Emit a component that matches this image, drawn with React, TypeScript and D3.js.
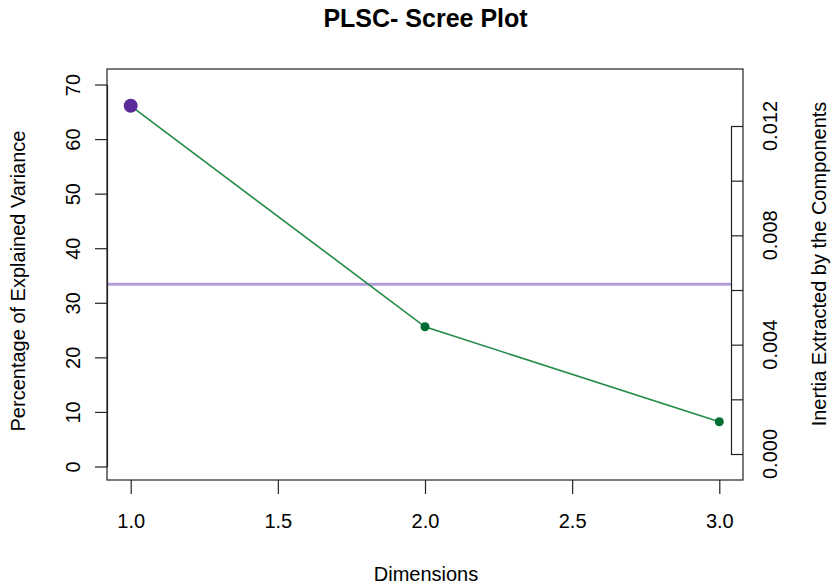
import React, { useEffect, useRef } from 'react';
import * as d3 from 'd3';

// scree values
const dimensions = [1, 2, 3];
const explained = [66.1, 25.6, 8.2];
const meanExplained = 33.4;
const xTicks = [1.0, 1.5, 2.0, 2.5, 3.0];
const yTicks = [0, 10, 20, 30, 40, 50, 60, 70];
const inertiaTicks = [0, 0.002, 0.004, 0.006, 0.008, 0.01, 0.012];
const inertiaLabels = [0, 0.004, 0.008, 0.012];

const FONT = '"Liberation Sans", Arial, sans-serif';

export default function App() {
  const ref = useRef<SVGSVGElement>(null);

  useEffect(() => {
    const width = 835;
    const height = 587;
    const box = { left: 107, right: 743, top: 69, bottom: 480 };

    const svg = d3.select(ref.current);
    svg.selectAll('*').remove();
    svg.attr('width', width).attr('height', height);

    const x = d3.scaleLinear().domain([1, 3]).range([130.7, 719.3]);
    const y = d3.scaleLinear().domain([0, 70]).range([466.5, 84.5]);
    const yr = d3.scaleLinear().domain([0, 0.012]).range([454, 126]);

    // plot box
    svg.append('rect')
      .attr('x', box.left).attr('y', box.top)
      .attr('width', box.right - box.left).attr('height', box.bottom - box.top)
      .attr('fill', 'none').attr('stroke', '#222').attr('stroke-width', 1.2);

    // mean line
    svg.append('line')
      .attr('x1', box.left).attr('x2', 731)
      .attr('y1', y(meanExplained)).attr('y2', y(meanExplained))
      .attr('stroke', '#B39DD8').attr('stroke-width', 3);

    // left axis
    const left = svg.append('g').attr('transform', `translate(${box.left},0)`)
      .call(d3.axisLeft(y).tickValues(yTicks).tickSize(12).tickSizeOuter(0).tickFormat(d3.format('d')));
    left.select('.domain').attr('stroke', '#222').attr('stroke-width', 1.2);
    left.selectAll('.tick line').attr('stroke', '#222').attr('stroke-width', 1.2);
    left.selectAll('.tick text')
      .attr('x', null).attr('dy', null)
      .attr('transform', 'translate(-27,0) rotate(-90)')
      .attr('text-anchor', 'middle')
      .attr('font-family', FONT).attr('font-size', 20).attr('fill', '#000');

    // bottom axis
    const bottom = svg.append('g').attr('transform', `translate(0,${box.bottom})`)
      .call(d3.axisBottom(x).tickValues(xTicks).tickSize(14).tickSizeOuter(0).tickFormat(d3.format('.1f')));
    bottom.select('.domain').remove();
    bottom.selectAll('.tick line').attr('stroke', '#222').attr('stroke-width', 1.2);
    bottom.selectAll('.tick text')
      .attr('y', 48).attr('dy', null)
      .attr('font-family', FONT).attr('font-size', 20).attr('fill', '#000');

    // right inertia axis, drawn inside the box
    const right = svg.append('g').attr('transform', 'translate(731,0)')
      .call(d3.axisRight(yr).tickValues(inertiaTicks).tickSize(12).tickSizeOuter(0).tickFormat(() => ''));
    right.select('.domain').attr('stroke', '#222').attr('stroke-width', 1.2);
    right.selectAll('.tick line').attr('stroke', '#222').attr('stroke-width', 1.2);
    svg.append('g').selectAll('text')
      .data(inertiaLabels)
      .enter()
      .append('text')
      .attr('transform', (d) => `translate(777,${yr(d)}) rotate(-90)`)
      .attr('text-anchor', 'middle')
      .attr('font-family', FONT).attr('font-size', 20).attr('fill', '#000')
      .text((d) => d3.format('.3f')(d));

    // scree line
    const pts = dimensions.map((d, i) => [d, explained[i]] as [number, number]);
    svg.append('path')
      .datum(pts)
      .attr('d', d3.line<[number, number]>().x((d) => x(d[0])).y((d) => y(d[1])))
      .attr('fill', 'none').attr('stroke', '#238A47').attr('stroke-width', 1.6);

    svg.selectAll('.pt')
      .data(pts)
      .enter()
      .append('circle')
      .attr('cx', (d) => x(d[0]))
      .attr('cy', (d) => y(d[1]))
      .attr('r', (d, i) => (i === 0 ? 7 : 4.5))
      .attr('fill', (d, i) => (i === 0 ? '#5B2A98' : '#006E32'));

    // titles
    svg.append('text')
      .attr('x', 425.5).attr('y', 27)
      .attr('text-anchor', 'middle')
      .attr('font-family', FONT).attr('font-size', 25).attr('font-weight', 'bold')
      .text('PLSC- Scree Plot');

    svg.append('text')
      .attr('x', 426).attr('y', 581)
      .attr('text-anchor', 'middle')
      .attr('font-family', FONT).attr('font-size', 20)
      .text('Dimensions');

    svg.append('text')
      .attr('transform', 'translate(25,281) rotate(-90)')
      .attr('text-anchor', 'middle')
      .attr('font-family', FONT).attr('font-size', 20)
      .text('Percentage of Explained Variance');

    svg.append('text')
      .attr('transform', 'translate(826,264) rotate(-90)')
      .attr('text-anchor', 'middle')
      .attr('font-family', FONT).attr('font-size', 20)
      .text('Inertia Extracted by the Components');
  }, []);

  return (
    <svg ref={ref} style={{ position: 'absolute', left: 0, top: 0, background: '#fff' }}></svg>
  );
}
